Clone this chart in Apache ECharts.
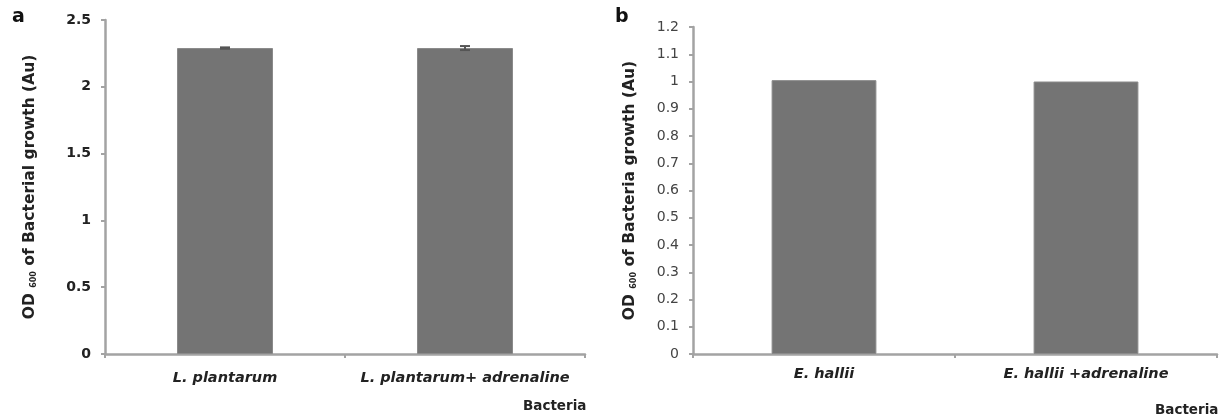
<!DOCTYPE html>
<html><head><meta charset="utf-8">
<script src="https://cdn.jsdelivr.net/npm/echarts@6/dist/echarts.min.js"></script>
<style>html,body{margin:0;padding:0;background:#fff}#c{width:1228px;height:418px}</style>
</head><body><div id="c"></div>
<script>
const catsA = ['L. plantarum', 'L. plantarum+ adrenaline'];
const valsA = [2.29, 2.29];
const errA = [0.005, 0.015];
const catsB = ['E. hallii', 'E. hallii +adrenaline'];
const valsB = [1.005, 1.0];
const errB = [0, 0];

const chart = echarts.init(document.getElementById('c'));
const FONT = '"DejaVu Sans", Verdana, sans-serif';
const axisCol = '#a3a3a3';
const barCol = '#747474';

function errSeries(xi, yi, vals, errs) {
  return {
    type: 'custom', xAxisIndex: xi, yAxisIndex: yi, z: 5,
    data: vals.map((v, i) => [i, v, errs[i]]),
    renderItem: function (params, api) {
      const e = api.value(2);
      if (!e) return null;
      const x = api.value(0), y = api.value(1);
      const hi = api.coord([x, y + e]);
      const lo = api.coord([x, y - e]);
      const w = 5;
      const st = { stroke: '#555', lineWidth: 2 };
      return { type: 'group', children: [
        { type: 'line', shape: { x1: hi[0], y1: hi[1], x2: lo[0], y2: lo[1] }, style: st },
        { type: 'line', shape: { x1: hi[0] - w, y1: hi[1], x2: hi[0] + w, y2: hi[1] }, style: st },
        { type: 'line', shape: { x1: lo[0] - w, y1: lo[1], x2: lo[0] + w, y2: lo[1] }, style: st }
      ]};
    }
  };
}

function xAxis(gi, cats, margin) {
  return {
    type: 'category', gridIndex: gi, data: cats,
    axisLine: { lineStyle: { color: axisCol, width: 2.5 } },
    axisTick: { show: true, length: 4, lineStyle: { color: axisCol, width: 2 } },
    axisLabel: { interval: 0, hideOverlap: false, color: '#222', fontFamily: FONT, fontSize: 14.5, fontWeight: 'bold', fontStyle: 'italic', margin: margin }
  };
}
function yAxis(gi, max, interval, bold, name, nameGap) {
  return {
    type: 'value', gridIndex: gi, min: 0, max: max, interval: interval,
    splitLine: { show: false },
    axisLine: { show: true, lineStyle: { color: axisCol, width: 2.5 } },
    axisTick: { show: true, length: 4, lineStyle: { color: axisCol, width: 2 } },
    axisLabel: { color: bold ? '#222' : '#444', fontFamily: FONT, fontSize: 14, fontWeight: bold ? 'bold' : 'normal', margin: 14 },
    name: name, nameLocation: 'middle', nameRotate: 90, nameGap: nameGap,
    nameTextStyle: {
      color: '#222', fontFamily: FONT, fontSize: 15.5, fontWeight: 'bold',
      rich: { sub: { fontSize: 8, fontWeight: 'bold', fontFamily: FONT, color: '#222', verticalAlign: 'bottom' } }
    }
  };
}

chart.setOption({
  animation: false,
  grid: [
    { left: 105, top: 20, width: 480, height: 334 },
    { left: 693, top: 27, width: 524, height: 327 }
  ],
  xAxis: [xAxis(0, catsA, 17), xAxis(1, catsB, 13)],
  yAxis: [
    yAxis(0, 2.5, 0.5, true, 'OD {sub|600} of Bacterial growth (Au)', 67),
    yAxis(1, 1.2, 0.1, false, 'OD {sub|600} of Bacteria growth (Au)', 55)
  ],
  graphic: [
    { type: 'text', left: 12, top: 8, style: { text: 'a', font: 'bold 19px ' + FONT, fill: '#111' } },
    { type: 'text', left: 615, top: 8, style: { text: 'b', font: 'bold 19px ' + FONT, fill: '#111' } },
    { type: 'text', left: 523, top: 399, style: { text: 'Bacteria', font: 'bold 13.5px ' + FONT, fill: '#222' } },
    { type: 'text', left: 1155, top: 403, style: { text: 'Bacteria', font: 'bold 13.5px ' + FONT, fill: '#222' } }
  ],
  series: [
    { type: 'bar', xAxisIndex: 0, yAxisIndex: 0, data: valsA, barWidth: '40%', itemStyle: { color: barCol, borderColor: '#8a8a8a', borderWidth: 1 } },
    errSeries(0, 0, valsA, errA),
    { type: 'bar', xAxisIndex: 1, yAxisIndex: 1, data: valsB, barWidth: '40%', itemStyle: { color: barCol, borderColor: '#8a8a8a', borderWidth: 1 } },
    errSeries(1, 1, valsB, errB)
  ]
});
</script></body></html>
